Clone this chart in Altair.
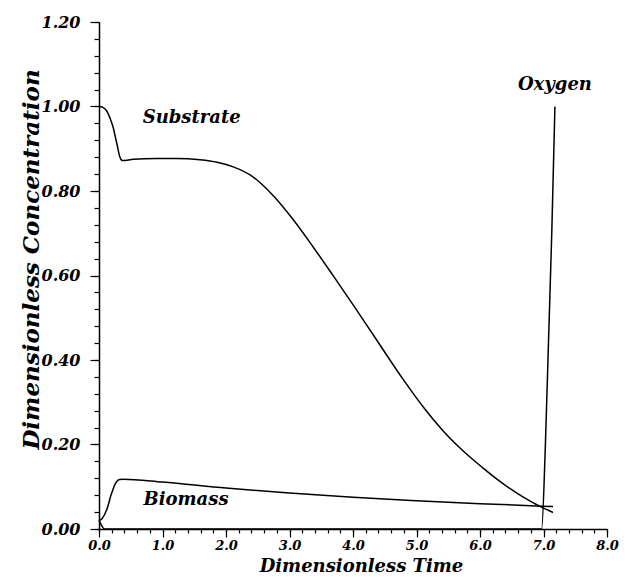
import altair as alt
import pandas as pd

# ---- data ----
sub_t = [0.0, 0.06, 0.12, 0.18, 0.22, 0.28, 0.33, 0.37, 0.54, 0.9, 1.22, 1.59, 1.86, 2.115,
         2.43, 2.745, 3.06, 3.375, 3.69, 4.005, 4.37, 4.79, 5.11, 5.42, 5.74, 6.05, 6.24,
         6.55, 6.84, 7.15]
sub_v = [1.0, 0.998, 0.99, 0.97, 0.952, 0.913, 0.88, 0.872, 0.875, 0.877, 0.877, 0.874, 0.868, 0.857,
         0.833, 0.789, 0.732, 0.667, 0.599, 0.530, 0.448, 0.354, 0.288, 0.232, 0.184, 0.144, 0.121,
         0.088, 0.062, 0.039]

bio_t = [0.0, 0.05, 0.12, 0.2, 0.26, 0.32, 0.38, 1.0, 2.0, 3.0, 4.0, 5.0, 6.0, 7.15]
bio_v = [0.02, 0.025, 0.045, 0.085, 0.108, 0.117, 0.118, 0.111, 0.097, 0.085, 0.075, 0.067, 0.060, 0.053]

oxy_t = [0.0, 0.09, 6.97, 7.03, 7.08, 7.13, 7.18]
oxy_v = [0.021, 0.0, 0.0, 0.2, 0.45, 0.7, 1.0]

label_text = ["Substrate", "Biomass", "Oxygen"]
label_t = [1.46, 1.37, 7.18]
label_v = [0.973, 0.069, 1.05]

x_major_ticks = [0.0, 1.0, 2.0, 3.0, 4.0, 5.0, 6.0, 7.0, 8.0]
y_major_ticks = [0.0, 0.2, 0.4, 0.6, 0.8, 1.0, 1.2]
x_minor_ticks = [round(i * 0.2, 1) for i in range(41)]
y_minor_ticks = [round(i * 0.04, 2) for i in range(31)]

rows = []
for name, ts, vs in [("Substrate", sub_t, sub_v), ("Biomass", bio_t, bio_v), ("Oxygen", oxy_t, oxy_v)]:
    for i, (t, v) in enumerate(zip(ts, vs)):
        rows.append({"series": name, "t": t, "c": v, "o": i})
df = pd.DataFrame(rows)
labels = pd.DataFrame({"text": label_text, "t": label_t, "c": label_v})

FONT = "DejaVu Serif"

x_scale = alt.Scale(domain=[0, 8], nice=False, zero=False)
y_scale = alt.Scale(domain=[0, 1.2], nice=False, zero=False)

x_axis = alt.Axis(
    orient="bottom", values=x_major_ticks, tickCount=200, format=".1f", tickSize=8,
    grid=False, labelOverlap=False, labelFlush=False, labelBound=False,
    labelFont=FONT, labelFontStyle="italic", labelFontWeight="bold", labelFontSize=13,
    labelColor="black", labelPadding=2,
    domainColor="black", domainWidth=1.5, tickColor="black", tickWidth=1.2,
    title="Dimensionless Time", titleFont=FONT, titleFontStyle="italic", titleFontWeight="bold",
    titleFontSize=18, titleColor="black", titleX=262, titleY=42, titleBaseline="alphabetic",
    titleAlign="center",
)

y_axis = alt.Axis(
    orient="left", values=y_major_ticks, tickCount=200, format=".2f", tickSize=9,
    grid=False, labelOverlap=False, labelFlush=False, labelBound=False,
    labelFont=FONT, labelFontStyle="italic", labelFontWeight="bold", labelFontSize=16,
    labelColor="black", labelPadding=10,
    domainColor="black", domainWidth=1.5, tickColor="black", tickWidth=1.2,
    title="Dimensionless Concentration", titleFont=FONT, titleFontStyle="italic", titleFontWeight="bold",
    titleFontSize=23, titleColor="black", titleX=-61, titleY=237, titleBaseline="alphabetic",
    titleAngle=270, titleAlign="center",
)

x_minor_axis = alt.Axis(
    orient="bottom", values=x_minor_ticks, tickCount=200, tickSize=4, labels=False,
    domain=False, grid=False, title=None, tickColor="black", tickWidth=1.2,
)
y_minor_axis = alt.Axis(
    orient="left", values=y_minor_ticks, tickCount=200, tickSize=5, labels=False,
    domain=False, grid=False, title=None, tickColor="black", tickWidth=1.2,
)

lines = alt.Chart(df).mark_line(color="black", strokeWidth=1.5, interpolate="monotone").encode(
    x=alt.X("t:Q", scale=x_scale, axis=x_axis),
    y=alt.Y("c:Q", scale=y_scale, axis=y_axis),
    detail="series:N",
    order="o:Q",
)

texts = alt.Chart(labels).mark_text(
    font=FONT, fontStyle="italic", fontWeight="bold", fontSize=18, color="black",
    align="center", baseline="middle",
).encode(
    x=alt.X("t:Q", scale=x_scale, axis=x_minor_axis),
    y=alt.Y("c:Q", scale=y_scale, axis=y_minor_axis),
    text="text:N",
)

chart = alt.layer(lines, texts).resolve_scale(
    x="independent", y="independent"
).resolve_axis(
    x="independent", y="independent"
).properties(
    width=508, height=507,
    autosize=alt.AutoSizeParams(type="none"),
    padding={"left": 91, "top": 14, "right": 16, "bottom": 46},
    background="white",
).configure_view(stroke=None)

chart.save("out.html", embed_options={"renderer": "svg", "actions": False})
